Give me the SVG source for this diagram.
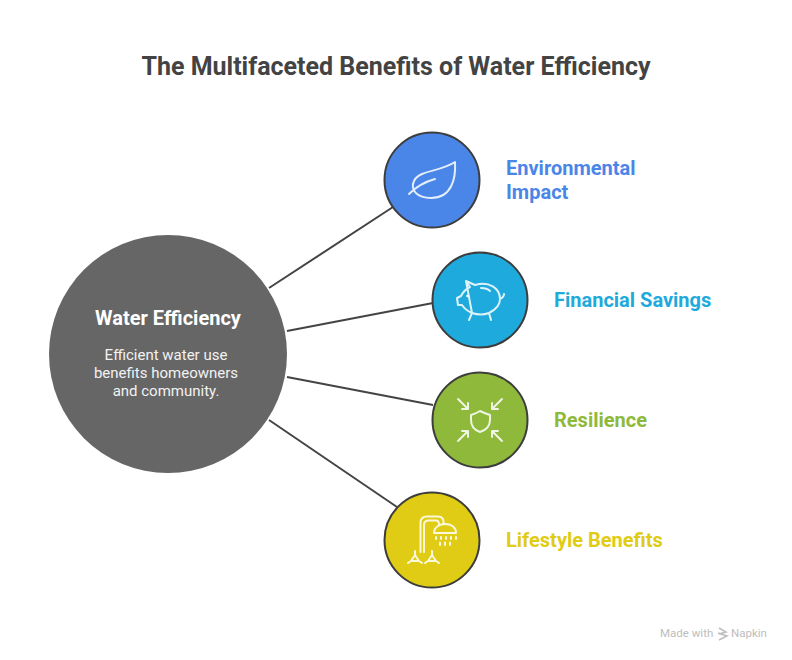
<svg xmlns="http://www.w3.org/2000/svg" width="792" height="660" viewBox="0 0 792 660">
<style>
text{font-family:Roboto,"Liberation Sans",sans-serif}
.lab{font-size:20px;font-weight:700}
.con{stroke:#444;stroke-width:2;fill:none}
.ring{stroke:#3d3d3d;stroke-width:2}
.ic{fill:none;stroke:#fff;stroke-width:2;stroke-linecap:round;stroke-linejoin:round;opacity:.85}
</style>
<rect width="792" height="660" fill="#fff"/>
<text x="396" y="74.500" text-anchor="middle" font-size="25" font-weight="700" fill="#434343">The Multifaceted Benefits of Water Efficiency</text>
<g id="connectors">
<path class="con" d="M269 288L393 207"/>
<path class="con" d="M287 331L433 303"/>
<path class="con" d="M287 377L433 405"/>
<path class="con" d="M269 420L397 507"/>
</g>
<g id="center">
<circle cx="168" cy="354" r="119" fill="#666"/>
<text x="168" y="325" text-anchor="middle" font-size="20" font-weight="700" fill="#fff">Water Efficiency</text>
<text x="166" y="359.500" text-anchor="middle" font-size="15" fill="#f2f2f2">Efficient water use</text>
<text x="166" y="377.500" text-anchor="middle" font-size="15" fill="#f2f2f2">benefits homeowners</text>
<text x="166" y="395.500" text-anchor="middle" font-size="15" fill="#f2f2f2">and community.</text>
</g>
<g id="environmental">
<circle class="ring" cx="432" cy="180" r="47.500" fill="#4a86e8"/>
<path class="ic" d="M455 162C456 178 452 198 431 198C417 198 410 190 414 181C419 170 440 172 455 162ZM409 194C417 186 424 182 435 179"/>
<text class="lab" fill="#4a86e8" x="506" y="174.500">Environmental</text>
<text class="lab" fill="#4a86e8" x="506" y="199">Impact</text>
</g>
<g id="financial">
<circle class="ring" cx="480" cy="300" r="47.500" fill="#1eaadc"/>
<path class="ic" d="M466 281L475 285C489 281 500 288 500 299C500 305 495 310 489 313L491 320M472 313L469 320M472 313C478 315 484 315 489 313M472 313C467 311 464 308 462 305L458 305L457 298L461 296C463 292 466 289 470 287L466 281ZM481 288C485 288 488 289 490 291M500 299C502 298 504 296 504 294"/>
<circle cx="467.500" cy="296" r="1.300" fill="#fff"/>
<text class="lab" fill="#1eaadc" x="554" y="307">Financial Savings</text>
</g>
<g id="resilience">
<circle class="ring" cx="480" cy="420" r="47.500" fill="#8fb93a"/>
<path class="ic" d="M480 411C484 413 487 414 490 415V420C490 426 486 430 480 432C474 430 471 426 471 420V415C474 414 477 413 480 411ZM458 399L468 409M462 409H468V403M502 399L492 409M498 409H492V403M458 441L468 431M462 431H468V437M502 441L492 431M498 431H492V437"/>
<text class="lab" fill="#8fb93a" x="554" y="427">Resilience</text>
</g>
<g id="lifestyle">
<circle class="ring" cx="432" cy="540" r="47.500" fill="#e0cc14"/>
<path class="ic" d="M420.500 552V523Q420.500 516.500 427 516.500H438Q443.500 516.500 443.500 522V524M424 552V525Q424 520.500 428.500 520.500H436Q439 520.500 439 524.500"/>
<path class="ic" d="M434 533C434 527 440 524 445 524C451 524 456 527 456 533ZM436 537V539M441 537V539M446 537V539M451 537V539M456 537V539M440 542.500V545M445 542.500V545M450 542.500V545"/>
<path class="ic" d="M415 555L411 561H419ZM415 551V555M411 561L408 563M419 561L422 563M432 555L428 561H436ZM432 551V555M428 561L425 563M436 561L439 563"/>
<text class="lab" fill="#e0cc14" x="506" y="547">Lifestyle Benefits</text>
</g>
<g id="credit">
<text x="660" y="637" font-size="11.500" fill="#bdbdbd">Made with</text>
<path d="M719 628L726 632L719 634M718 633L727 636L719 640" fill="none" stroke="#bdbdbd" stroke-width="1.500"/>
<text x="731" y="637" font-size="11.500" fill="#bdbdbd">Napkin</text>
</g>
</svg>
